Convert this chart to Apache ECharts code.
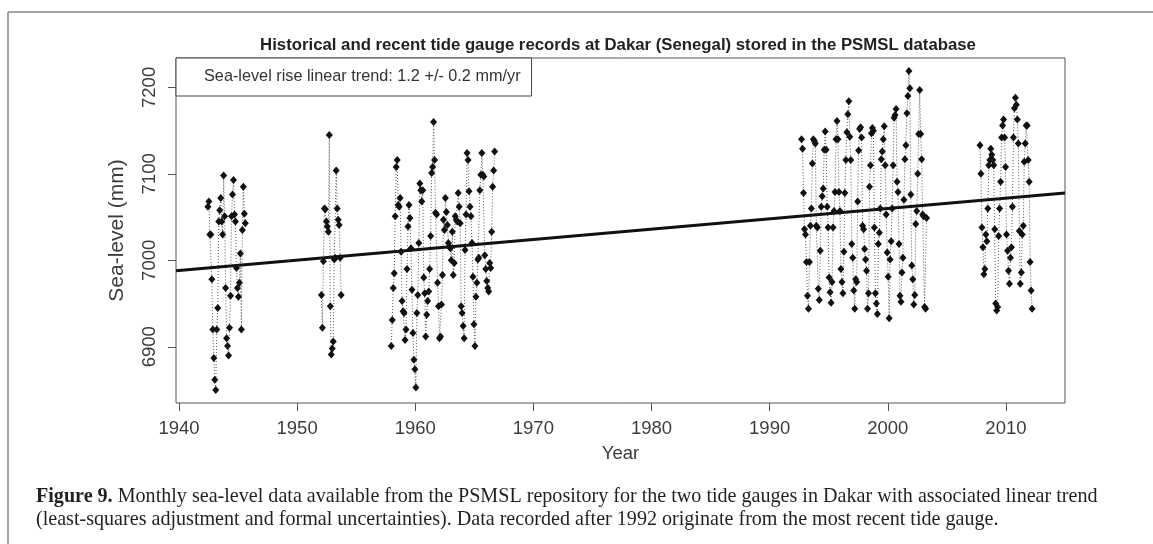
<!DOCTYPE html>
<html>
<head>
<meta charset="utf-8">
<script src="https://cdn.jsdelivr.net/npm/echarts@6.0.0/dist/echarts.min.js"></script>
<style>
  html, body { margin: 0; padding: 0; background: #fff; }
  #tideChart { width: 1153px; height: 544px; }
</style>
</head>
<body>
<div id="tideChart"></div>
<script>
// monthly sea-level (mm); first value's decimal year given separately
const gauge1942Start = 1942.45;
const gauge1942Values = [7062, 7068, 7030, 7030, 6978, 6920, 6887, 6862, 6850, 6920, 6945, 7045, 7058,
  7072, 7045, 7030, 7098, 7051, 6968, 6910, 6901, 6890, 6922, 6959, 7051, 7076, 7093, 7053, 7045,
  6991, 6968, 6958, 6974, 7008, 6920, 7035, 7085, 7054, 7043];

const gauge1952Start = 1952.06;
const gauge1952Values = [6960, 6922, 6999, 7060, 7059, 7045, 7039, 7033, 7145, 6947, 6891, 6898,
  6906, 7001, 7003, 7104, 7060, 7047, 7041, 7003, 6960];

const gauge1958Start = 1957.97;
const gauge1958Values = [6901, 6931, 6968, 6985, 7051, 7108, 7116, 7064, 7062, 7072, 7010,
  6953, 6941, 6939, 6908, 6920, 6990, 7039, 7064, 7049, 7014, 6966,
  6916, 6885, 6874, 6853, 6939, 6960, 7020, 7089, 7081, 7068, 7081,
  6980, 6962, 6912, 6937, 6953, 6964, 6990, 7028, 7101, 7108, 7160,
  7116, 7055, 7053, 6974, 6947, 6910, 6912, 6949, 6983, 7047,
  7035, 7072, 7056, 7041, 7020, 7016, 7014, 7000, 7033, 6983, 6997,
  7051, 7047, 7045, 7078, 7062, 7043, 6947, 6939, 6924, 6910,
  7012, 7053, 7124, 7116, 7080, 7062, 7051, 7020, 6981, 6926, 6901,
  6958, 6974, 7001, 7003, 7081, 7099, 7124, 7099, 7097, 7006, 6990,
  6976, 6968, 6964, 6997, 6991, 7033, 7085, 7104, 7126];

const gauge1992Start = 1992.7;
const gauge1992Values = [
  7140, 7129, 7078, 7036, 7030, 6998, 6959, 6944, 6998, 7040, 7060, 7112,
  7140, 7138, 7135, 7040, 7038, 6967, 6954, 7011, 7062, 7074, 7083, 7128,
  7149, 7128, 7062, 7038, 6980, 6963, 6951, 6975, 7038, 7057, 7079, 7140,
  7161, 7140, 7079, 7057, 6990, 6975, 6962, 7010, 7078, 7116, 7148, 7169,
  7184, 7143, 7116, 7019, 7003, 6965, 6944, 6978, 6975, 7068, 7127, 7152,
  7154, 7142, 7040, 7036, 7013, 7001, 6988, 6944, 6962, 7085, 7110, 7147,
  7153, 7150, 7038, 6962, 6950, 6938, 7019, 7032, 7060, 7117, 7126, 7140,
  7155, 7110, 7053, 7009, 6981, 6933, 7001, 7022, 7060, 7110, 7165, 7168,
  7175, 7091, 7079, 7019, 6959, 6952, 6986, 7003, 7070, 7117, 7133, 7170,
  7190, 7219, 7199, 7076, 6994, 6978, 6949, 6960, 7042, 7057, 7100, 7146,
  7197, 7146, 7117, 7053, 7051, 6946, 6944, 7049];

const gauge2007Start = 2007.8;
const gauge2007Values = [
  7133, 7100, 7038, 7015, 6984, 6990, 7030, 7022, 7060, 7110, 7116, 7129,
  7122, 7116, 7110, 7036, 6950, 6942, 6946, 7028, 7060, 7091, 7142, 7156,
  7163, 7142, 7108, 7030, 7011, 6988, 6973, 7003, 7015, 7062, 7142, 7176,
  7188, 7180, 7163, 7135, 7034, 6973, 6986, 7030, 7040, 7114, 7135, 7156,
  7156, 7116, 7091, 6998, 6965, 6944];

// fitted trend as drawn, at the two ends of the x range
const trendYears = [1939.75, 2015.0];
const trendValues = [6988, 7078];

const yearTicks = [1940, 1950, 1960, 1970, 1980, 1990, 2000, 2010];
const levelTicks = [6900, 7000, 7100, 7200];

const trendLabel = 'Sea-level rise linear trend: 1.2 +/- 0.2 mm/yr';

function monthly(start, values) {
  return values.map((v, i) => [start + i / 12, v]);
}

const gauges = [
  monthly(gauge1942Start, gauge1942Values),
  monthly(gauge1952Start, gauge1952Values),
  monthly(gauge1958Start, gauge1958Values),
  monthly(gauge1992Start, gauge1992Values),
  monthly(gauge2007Start, gauge2007Values)
];

const chart = echarts.init(document.getElementById('tideChart'));
const sans = 'Liberation Sans, Arial, sans-serif';
const serif = 'Liberation Serif, Times New Roman, serif';
const axisText = { color: '#3c3c3c', fontFamily: sans, fontSize: 18.5 };

const gaugeSeries = gauges.map((pts, k) => ({
  name: 'gauge' + k,
  type: 'line',
  data: pts,
  symbol: 'diamond',
  symbolSize: [7, 8],
  itemStyle: { color: '#111' },
  lineStyle: { color: '#555', width: 1, type: [1, 2] },
  z: 3
}));

const option = {
  animation: false,
  backgroundColor: '#fff',
  title: {
    text: 'Historical and recent tide gauge records at Dakar (Senegal) stored in the PSMSL database',
    left: 613,
    textAlign: 'center',
    top: 32,
    textStyle: { fontFamily: sans, fontSize: 16.75, fontWeight: 'bold', color: '#222' }
  },
  legend: {
    data: [{ name: trendLabel }],
    left: 176,
    top: 58,
    itemWidth: 0,
    itemHeight: 0,
    selectedMode: false,
    padding: [11, 11, 11, 22],
    borderColor: '#444',
    borderWidth: 1,
    backgroundColor: '#fff',
    textStyle: { fontFamily: sans, fontSize: 16.25, color: '#333' }
  },
  grid: {
    left: 176,
    right: 88,
    top: 58,
    bottom: 141,
    show: true,
    borderColor: '#555',
    borderWidth: 1,
    backgroundColor: 'transparent'
  },
  xAxis: {
    type: 'value',
    min: trendYears[0],
    max: trendYears[1],
    name: 'Year',
    nameLocation: 'middle',
    nameGap: 41,
    nameTextStyle: axisText,
    axisLine: { show: false },
    axisTick: { show: true, inside: false, length: 8, customValues: yearTicks, lineStyle: { color: '#555' } },
    axisLabel: Object.assign({ margin: 16, customValues: yearTicks, formatter: v => String(v) }, axisText),
    splitLine: { show: false }
  },
  yAxis: {
    type: 'value',
    min: 6835,
    max: 7234,
    name: 'Sea-level (mm)',
    nameLocation: 'middle',
    nameRotate: 90,
    nameGap: 48,
    nameTextStyle: Object.assign({}, axisText, { fontSize: 21 }),
    axisLine: { show: false },
    axisTick: { show: true, inside: false, length: 8, customValues: levelTicks, lineStyle: { color: '#555' } },
    axisLabel: Object.assign({ margin: 17, rotate: 90, customValues: levelTicks, formatter: v => String(v) }, axisText),
    splitLine: { show: false }
  },
  graphic: [
    { type: 'line', shape: { x1: 8, y1: 12, x2: 1153, y2: 12 }, style: { stroke: '#888', lineWidth: 1.5 } },
    { type: 'line', shape: { x1: 8, y1: 12, x2: 8, y2: 544 }, style: { stroke: '#888', lineWidth: 1.5 } },
    {
      type: 'text', left: 36, top: 487,
      style: {
        text: '{b|Figure 9.} Monthly sea-level data available from the PSMSL repository for the two tide gauges in Dakar with associated linear trend',
        fontFamily: serif, fontSize: 20.1, fill: '#231f20',
        rich: { b: { fontWeight: 'bold', fontFamily: serif, fontSize: 20.1, fill: '#231f20' } }
      }
    },
    {
      type: 'text', left: 36, top: 510,
      style: {
        text: '(least-squares adjustment and formal uncertainties). Data recorded after 1992 originate from the most recent tide gauge.',
        fontFamily: serif, fontSize: 20.1, fill: '#231f20'
      }
    }
  ],
  series: gaugeSeries.concat([{
    name: trendLabel,
    type: 'line',
    data: trendYears.map((y, i) => [y, trendValues[i]]),
    symbol: 'none',
    lineStyle: { color: '#111', width: 3 },
    z: 4
  }])
};

chart.setOption(option);
</script>
</body>
</html>
